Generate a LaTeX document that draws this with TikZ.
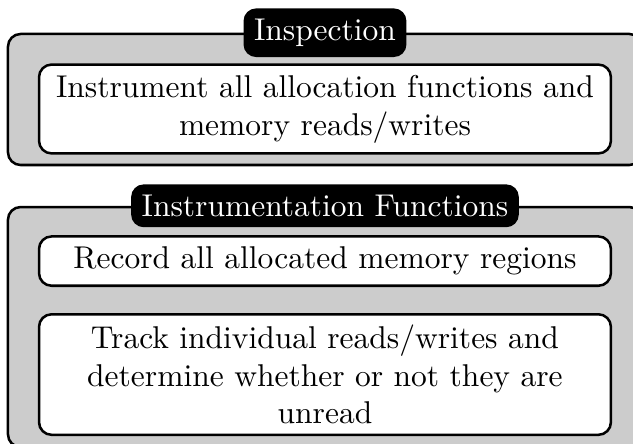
\documentclass[tikz,border=0pt]{standalone}
\usepackage{amsmath}

\begin{document}
\begin{tikzpicture}[
    group/.style={draw, thick, fill=black!20, rounded corners, minimum width=7.074cm},
    title/.style={fill=black, text=white, rounded corners},
    task/.style={draw, thick, fill=white, rounded corners, text width=174.9pt, align=center}
  ]
      \useasboundingbox (0,0) rectangle (7.063,-4.943);
      \node[group, minimum height=1.462cm] (inspect) at (3.626,-1.110) {};
      \node[group, minimum height=2.678cm] (instfun) at (3.626,-3.649) {};
      \node[title] (inspecttitle) at (inspect.north) {Inspection};
      \node[title] (instfuntitle) at (instfun.north) {Instrumentation Functions};
      \node[task] (instrument) at (3.626,-1.216) {Instrument all allocation functions and\\ memory reads/writes};
      \node[task] (record) at (3.626,-2.913) {Record all allocated memory regions};
      %\node[task] at (3.626,-4.179) {};
      \node[task] (track) at (3.626,-4.179) {Track individual reads/writes and\\ determine whether or not they are\\ unread};
    \end{tikzpicture}
\end{document}
